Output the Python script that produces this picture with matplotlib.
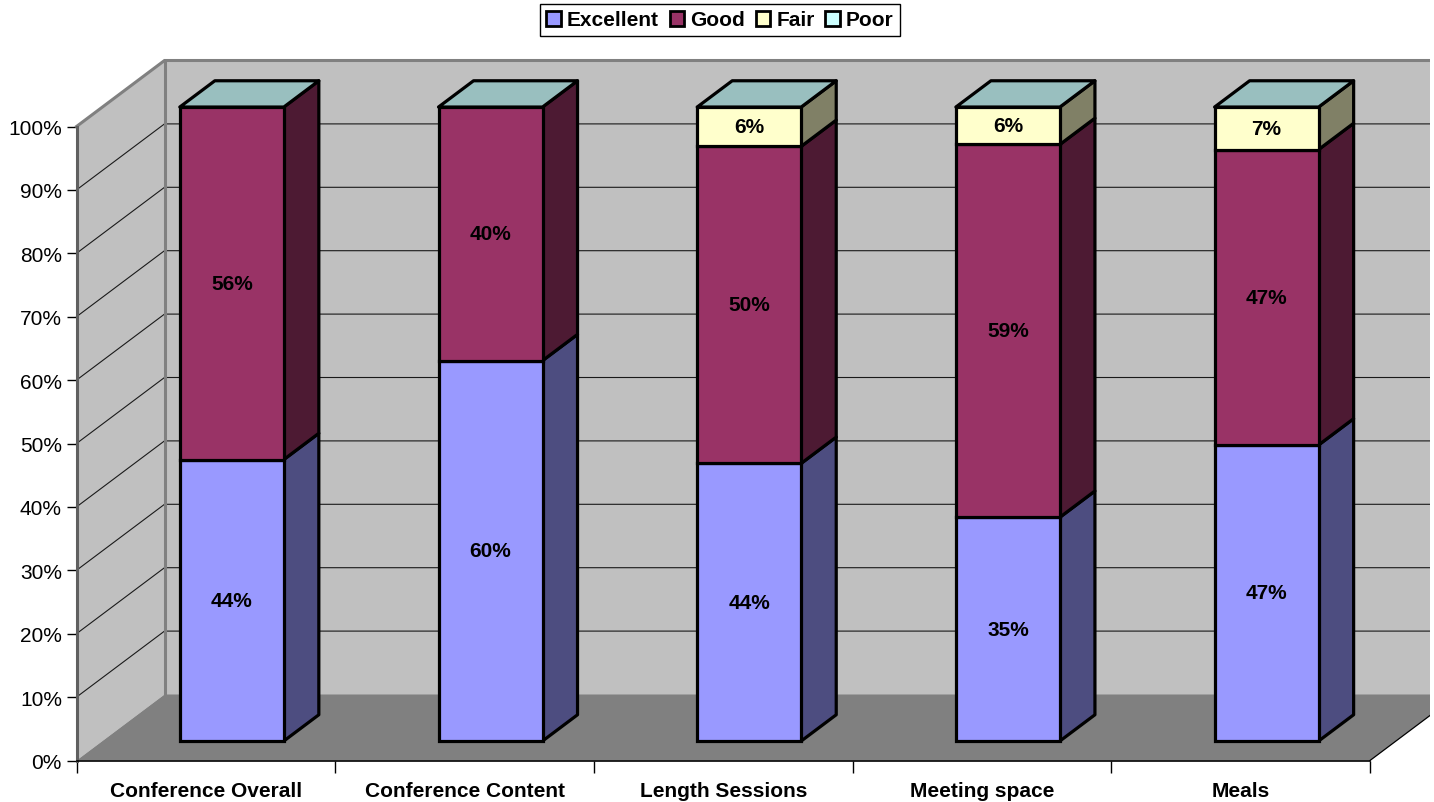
import numpy as np
import matplotlib
matplotlib.use('Agg')
import matplotlib.pyplot as plt
from matplotlib.patches import Patch, Polygon, Rectangle

plt.rcParams['font.family'] = ['Liberation Sans', 'DejaVu Sans']

categories = ["Conference Overall", "Conference Content", "Length Sessions", "Meeting space", "Meals"]
series_names = ["Excellent", "Good", "Fair", "Poor"]
excellent = [44.4, 60.0, 43.8, 35.3, 46.7]
good = [55.6, 40.0, 50.0, 58.8, 46.6]
fair = [0.0, 0.0, 6.2, 5.9, 6.7]
poor = [0.0, 0.0, 0.0, 0.0, 0.0]
y_ticks = [0, 10, 20, 30, 40, 50, 60, 70, 80, 90, 100]

front_colors = ["#9999FF", "#993366", "#FFFFCC", "#CCFFFF"]
side_colors = ["#4D4D80", "#4D1A33", "#808066", "#668080"]
top_color = "#99BFBF"

W, H = 1434, 803
fig = plt.figure(figsize=(W / 100, H / 100), dpi=100)
ax = fig.add_axes([76.5 / W, 1 - 761.5 / H, (1370 - 76.5) / W, (761.5 - 127.5) / H])
ax.set_xlim(0, 5)
ax.set_ylim(0, 100)
ax.patch.set_visible(False)

# depth direction of the fake 3d, in data units for depth = 1
DX = 88 / 258.7
DY = 66 / 6.34
D_FRONT = 0.295
D_BACK = 0.693
BAR_W = 0.402


def proj(x, y, d):
    return (x + d * DX, y + d * DY)


clip = Rectangle((0, 0), 1430 / W, 1, transform=fig.transFigure)


def poly(points, **kw):
    p = Polygon(points, closed=True, joinstyle='round', **kw)
    ax.add_patch(p)
    p.set_clip_path(clip)
    return p


# walls and floor
poly([proj(0, 0, 0), proj(0, 100, 0), proj(0, 100, 1), proj(0, 0, 1)], fc="#C0C0C0", ec="none", zorder=1)
poly([proj(0, 0, 1), proj(0, 100, 1), proj(5, 100, 1), proj(5, 0, 1)], fc="#C0C0C0", ec="none", zorder=1)
poly([proj(0, 0, 0), proj(5, 0, 0), proj(5, 0, 1), proj(0, 0, 1)], fc="#808080", ec="none", zorder=1)

# gridlines on left wall and back wall
for t in y_ticks[1:-1]:
    xs, ys = zip(proj(0, t, 0), proj(0, t, 1), proj(5, t, 1))
    ln, = ax.plot(xs, ys, color="#1a1a1a", lw=0.8, zorder=2, solid_joinstyle='miter')
    ln.set_clip_path(clip)

# wall edges
xs, ys = zip(proj(0, 100, 0), proj(0, 100, 1), proj(5, 100, 1))
ln, = ax.plot(xs, ys, color="#808080", lw=2.2, zorder=3, solid_joinstyle='miter')
ln.set_clip_path(clip)
xs, ys = zip(proj(0, 0, 1), proj(0, 100, 1))
ax.plot(xs, ys, color="#808080", lw=2.2, zorder=3, clip_on=False)
xs, ys = zip(proj(5, 0, 0), proj(5, 0, 1))
ln, = ax.plot(xs, ys, color="black", lw=0.9, zorder=3)
ln.set_clip_path(clip)

# bars, one category at a time so the faces overlap properly
values = np.array([excellent, good, fair, poor])
for i in range(len(categories)):
    x0 = i + 0.5 - BAR_W / 2
    x1 = x0 + BAR_W
    bottom = 0
    for s in range(len(series_names)):
        v = values[s][i]
        if v > 0:
            poly([proj(x1, bottom, D_FRONT), proj(x1, bottom + v, D_FRONT),
                  proj(x1, bottom + v, D_BACK), proj(x1, bottom, D_BACK)],
                 fc=side_colors[s], ec="black", lw=2.3, zorder=4)
            fx, fy = proj(i + 0.5, bottom, D_FRONT)
            ax.bar(fx, v, BAR_W, bottom=fy, color=front_colors[s], edgecolor="black",
                   linewidth=2.3, zorder=5, clip_on=False)
            tx, ty = proj(i + 0.5, bottom + v / 2, D_FRONT)
            ax.text(tx, ty, "%d%%" % round(v), ha='center', va='center',
                    fontsize=15, fontweight='bold', color="black", zorder=7)
        bottom += v
    poly([proj(x0, 100, D_FRONT), proj(x1, 100, D_FRONT), proj(x1, 100, D_BACK), proj(x0, 100, D_BACK)],
         fc=top_color, ec="black", lw=2.3, zorder=6)

# axes
for name in ['top', 'right']:
    ax.spines[name].set_visible(False)
ax.spines['left'].set_color("#606060")
ax.spines['left'].set_linewidth(2.2)
ax.spines['bottom'].set_color("black")
ax.spines['bottom'].set_linewidth(1.2)
ax.spines['left'].set_zorder(3)
ax.spines['bottom'].set_zorder(3)

ax.set_yticks(y_ticks)
ax.set_yticklabels(["%d%%" % t for t in y_ticks], fontsize=15)
ax.tick_params(axis='y', length=7.5, width=1, color="black", pad=3)
ax.set_xticks(range(len(categories) + 1))
ax.set_xticklabels([])
ax.set_xticks(np.arange(len(categories)) + 0.5, minor=True)
ax.set_xticklabels(categories, minor=True, fontsize=15, fontweight='bold')
ax.tick_params(axis='x', which='major', length=8.5, width=1, color="black")
ax.tick_params(axis='x', which='minor', length=0, pad=14.5)

handles = [Patch(facecolor=c, edgecolor="black", linewidth=2) for c in front_colors]
leg = fig.legend(handles, series_names, loc='center', bbox_to_anchor=(720 / W, 1 - 21 / H),
                 ncols=4, frameon=True, fancybox=False, edgecolor="black", framealpha=1,
                 prop={'size': 15, 'weight': 'bold'}, handlelength=0.7, handleheight=0.7,
                 handletextpad=0.3, columnspacing=0.5, borderpad=0.3, borderaxespad=0)
leg.get_frame().set_linewidth(1)

fig.savefig("out.png", dpi=100)
